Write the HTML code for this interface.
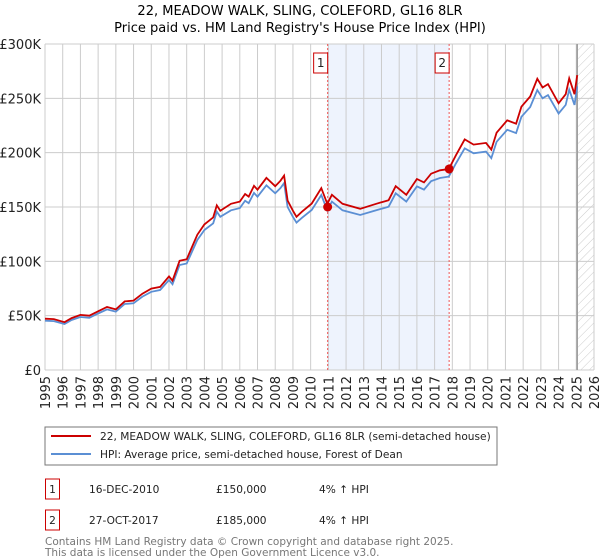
<!DOCTYPE html>
<html><head><meta charset="utf-8"><style>
body{margin:0;background:#fff;font-family:"Liberation Sans","DejaVu Sans",sans-serif;}
#wrap{position:relative;width:600px;height:560px;overflow:hidden;}
</style></head><body>
<div id="wrap">
<svg id="chart" width="600" height="560" style="position:absolute;left:0;top:0;font-family:'DejaVu Sans','Liberation Sans',sans-serif;">
<defs><pattern id="hatch" width="6" height="6" patternUnits="userSpaceOnUse" patternTransform="rotate(45)"><line x1="0" y1="0" x2="0" y2="6" stroke="#ccc" stroke-width="1"/></pattern></defs>
<text x="300" y="15" text-anchor="middle" font-size="13" fill="#000">22, MEADOW WALK, SLING, COLEFORD, GL16 8LR</text>
<text x="300" y="32" text-anchor="middle" font-size="13" fill="#000">Price paid vs. HM Land Registry's House Price Index (HPI)</text>
<g id="plot"></g>
</svg>
<svg width="600" height="560" style="position:absolute;left:0;top:0;font-family:'DejaVu Sans','Liberation Sans',sans-serif;">
<rect x="45" y="427" width="452" height="38" fill="#fff" stroke="#777"/>
<line x1="51" y1="436" x2="91" y2="436" stroke="#cc0000" stroke-width="2"/>
<text x="100" y="440" font-size="10.6" fill="#222">22, MEADOW WALK, SLING, COLEFORD, GL16 8LR (semi-detached house)</text>
<line x1="51" y1="454" x2="91" y2="454" stroke="#5b8fd4" stroke-width="2"/>
<text x="100" y="458" font-size="10.6" fill="#222">HPI: Average price, semi-detached house, Forest of Dean</text>
<g font-size="10.6" fill="#222">
<rect x="45.5" y="479" width="14" height="20" fill="#fff" stroke="#cc0000"/>
<text x="52.5" y="493" text-anchor="middle">1</text>
<text x="89" y="493">16-DEC-2010</text><text x="216" y="493">£150,000</text><text x="319" y="493">4% ↑ HPI</text></g>
<g font-size="10.6" fill="#222">
<rect x="45.5" y="510" width="14" height="20" fill="#fff" stroke="#cc0000"/>
<text x="52.5" y="524" text-anchor="middle">2</text>
<text x="89" y="524">27-OCT-2017</text><text x="216" y="524">£185,000</text><text x="319" y="524">4% ↑ HPI</text></g>
<text x="45" y="545" font-size="10.5" fill="#777">Contains HM Land Registry data © Crown copyright and database right 2025.</text>
<text x="45" y="556" font-size="10.5" fill="#777">This data is licensed under the Open Government Licence v3.0.</text>
</svg>
</div>
<script>
const years=[1995.0,1995.5,1996.1,1996.5,1997.0,1997.5,1998.0,1998.5,1999.0,1999.5,2000.0,2000.5,2001.0,2001.5,2002.0,2002.2,2002.6,2003.0,2003.3,2003.6,2004.0,2004.5,2004.7,2004.9,2005.5,2006.0,2006.3,2006.5,2006.8,2007.0,2007.5,2008.0,2008.3,2008.5,2008.7,2009.0,2009.2,2009.5,2010.06,2010.6,2010.94,2011.2,2011.8,2012.8,2013.7,2014.4,2014.8,2015.4,2016.0,2016.4,2016.8,2017.3,2017.8,2018.2,2018.7,2019.2,2019.9,2020.2,2020.5,2021.1,2021.6,2021.9,2022.4,2022.8,2023.1,2023.4,2024.0,2024.4,2024.6,2024.9,2025.05];
const hpiValues=[45.4,45,42.3,46,48.8,48,52,55.8,53.7,60.7,61.4,67.5,72,73.6,82.8,79,96.6,98,108.8,119.6,128.8,135,145.7,141,147,149,155.8,153.5,163,159.5,170,162.6,167.5,172,150,141,135.6,140,147.2,161,147,155,147,142.6,147,150.3,162.6,155,169,166,173.7,176.7,178,190,204,199.4,201,195,210,221,218,233,242,257.7,250,253,236,244,258,244,261];
const propertyValues=[47.2,46.8,44,47.8,50.7,50,54,58,55.8,63.1,63.9,70.2,74.9,76.5,86.1,82.2,100.5,101.9,113.2,124.4,134,140.4,151.5,146.6,152.9,155,162,159.6,169.5,165.9,176.8,169.1,174.2,178.9,156,146.6,141,145.6,153.1,167.4,152.9,161.2,152.9,148.3,152.9,156.3,169.1,161.2,175.8,172.6,180.6,183.8,185,197.6,212.2,207.4,209,202.8,218.4,229.8,226.7,242.3,251.7,268,260,263.1,245.4,253.8,268.3,253.8,271.4];
const saleYears=[2010.96,2017.82];
const salePrices=[150,185];
const saleLabels=["1","2"];
const yTicks=[0,50,100,150,200,250,300];
const yTickLabels=["£0","£50K","£100K","£150K","£200K","£250K","£300K"];
const xTicks=[1995,1996,1997,1998,1999,2000,2001,2002,2003,2004,2005,2006,2007,2008,2009,2010,2011,2012,2013,2014,2015,2016,2017,2018,2019,2020,2021,2022,2023,2024,2025,2026];

const L=45,R=594,T=44,B=370,X0=1995,X1=2026,Ymax=300;
const xs=y=>L+(y-X0)*(R-L)/(X1-X0);
const ys=v=>B-v*(B-T)/Ymax;
const NS="http://www.w3.org/2000/svg";
const g=document.getElementById('plot');
function mk(tag,attrs,parent){const e=document.createElementNS(NS,tag);for(const k in attrs)e.setAttribute(k,attrs[k]);(parent||g).appendChild(e);return e;}

let e=mk('rect',{x:xs(saleYears[0]),y:T,width:xs(saleYears[1])-xs(saleYears[0]),height:B-T,fill:'#eef3fd'});


e=mk('rect',{x:xs(2025.1),y:T,width:R-xs(2025.1),height:B-T,fill:'url(#hatch)'});


yTicks.forEach((v,i)=>{
  let l=mk('line',{x1:L,x2:R,y1:ys(v),y2:ys(v),stroke:'#cccccc','stroke-width':1});
  
  
  let t=mk('text',{x:L-4,y:ys(v)+5,'text-anchor':'end','font-size':13,fill:'#222'});
  t.textContent=yTickLabels[i];
  
  
});
xTicks.forEach(yr=>{
  let l=mk('line',{x1:xs(yr),x2:xs(yr),y1:T,y2:B,stroke:'#cccccc','stroke-width':1});
  
  
  let t=mk('text',{x:0,y:0,'text-anchor':'end','font-size':13,fill:'#222',transform:`translate(${xs(yr)+5},${B+6}) rotate(-90)`});
  t.textContent=yr;
  
  
});
e=mk('line',{x1:xs(2025.05),x2:xs(2025.05),y1:T,y2:B,stroke:'#999','stroke-width':1.5});


saleYears.forEach((yr,i)=>{
  let l=mk('line',{x1:xs(yr),x2:xs(yr),y1:T,y2:B,stroke:'#ee5555','stroke-width':1,'stroke-dasharray':'2,2'});
  
  
});
function path(vals){return vals.map((v,i)=>(i?'L':'M')+xs(years[i]).toFixed(1)+','+ys(v).toFixed(1)).join('');}
e=mk('path',{d:path(hpiValues),fill:'none',stroke:'#5b8fd4','stroke-width':1.8});


e=mk('path',{d:path(propertyValues),fill:'none',stroke:'#cc0000','stroke-width':1.8});


saleYears.forEach((yr,i)=>{
  let c=mk('circle',{cx:xs(yr),cy:ys(salePrices[i]),r:4.5,fill:'#cc0000'});
  
  
  let bx=mk('rect',{x:xs(yr)-14,y:53,width:14,height:20,fill:'#fff',stroke:'#cc0000'});
  
  
  let t=mk('text',{x:xs(yr)-7,y:67,'text-anchor':'middle','font-size':12,fill:'#222'});
  t.textContent=saleLabels[i];
  
  
});
</script>
</body></html>
